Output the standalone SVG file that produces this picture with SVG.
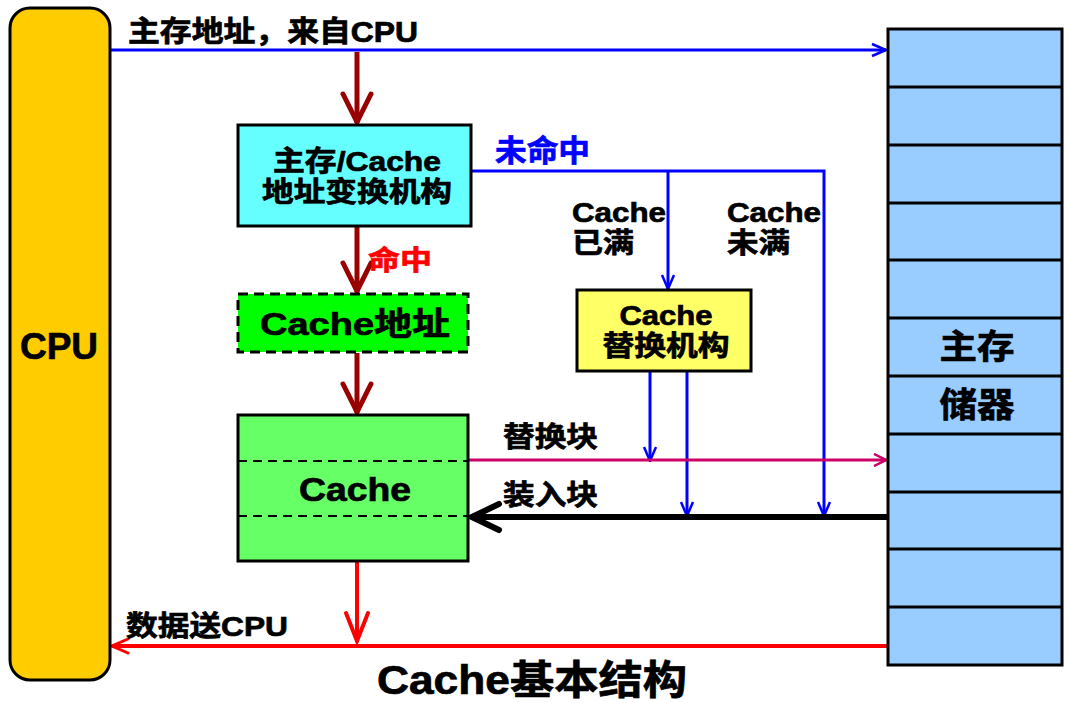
<svg xmlns="http://www.w3.org/2000/svg" width="1069" height="703" viewBox="0 0 1069 703">
<defs>
<style>
text{font-family:"Liberation Sans","Noto Sans CJK SC",sans-serif;font-weight:bold;fill:#000;stroke:#000;stroke-width:0.7}
.box{stroke:#000;stroke-width:3}
.mid{text-anchor:middle}
.blue{fill:#0000FF;stroke:#0000FF}
.red{fill:#FF0000;stroke:#FF0000}
</style>
<marker id="aBlue2" viewBox="0 0 16 16" refX="15" refY="8" markerWidth="16" markerHeight="16" markerUnits="userSpaceOnUse" orient="auto"><path d="M1,2 L15,8 L1,14" fill="none" stroke="#0000FF" stroke-width="2.5"/></marker>
<marker id="aMag" viewBox="0 0 14 14" refX="13" refY="7" markerWidth="14" markerHeight="14" markerUnits="userSpaceOnUse" orient="auto"><path d="M1,1 L13,7 L1,13" fill="none" stroke="#CC0066" stroke-width="2.5"/></marker>
<marker id="aDark" viewBox="0 0 34 34" refX="32" refY="17" markerWidth="34" markerHeight="34" markerUnits="userSpaceOnUse" orient="auto"><path d="M3,3 L31,17 L3,31" fill="none" stroke="#990000" stroke-width="5" stroke-linecap="round"/></marker>
<marker id="aRed" viewBox="0 0 34 34" refX="32" refY="17" markerWidth="34" markerHeight="34" markerUnits="userSpaceOnUse" orient="auto"><path d="M3,6 L31,17 L3,28" fill="none" stroke="#FF0000" stroke-width="4" stroke-linecap="round"/></marker>
<marker id="aRedS" viewBox="0 0 20 20" refX="19" refY="10" markerWidth="20" markerHeight="20" markerUnits="userSpaceOnUse" orient="auto"><path d="M3,3 L19,10 L3,17" fill="none" stroke="#FF0000" stroke-width="3" stroke-linecap="round"/></marker>
<marker id="aBlack" viewBox="0 0 34 34" refX="32" refY="17" markerWidth="34" markerHeight="34" markerUnits="userSpaceOnUse" orient="auto"><path d="M4,4 L31,17 L4,30" fill="none" stroke="#000" stroke-width="6" stroke-linecap="round"/></marker>
</defs>
<rect width="1069" height="703" fill="#fff"/>

<g id="connectors" fill="none">
<path d="M110,50 H886" stroke="#0000FF" stroke-width="3" marker-end="url(#aBlue2)"/>
<path d="M357,52 V123" stroke="#990000" stroke-width="5" marker-end="url(#aDark)"/>
<path d="M357,227 V292" stroke="#990000" stroke-width="5" marker-end="url(#aDark)"/>
<path d="M357,353 V413" stroke="#990000" stroke-width="5" marker-end="url(#aDark)"/>
<path d="M471,171 H824 V516" stroke="#0000FF" stroke-width="3" marker-end="url(#aBlue2)"/>
<path d="M668,171 V289" stroke="#0000FF" stroke-width="3" marker-end="url(#aBlue2)"/>
<path d="M650,371 V461" stroke="#0000FF" stroke-width="3" marker-end="url(#aBlue2)"/>
<path d="M687,371 V516" stroke="#0000FF" stroke-width="3" marker-end="url(#aBlue2)"/>
<path d="M469,460 H886" stroke="#CC0066" stroke-width="3" marker-end="url(#aMag)"/>
<path d="M888,517 H471" stroke="#000" stroke-width="6" marker-end="url(#aBlack)"/>
<path d="M357,562 V642" stroke="#FF0000" stroke-width="4" marker-end="url(#aRed)"/>
<path d="M888,646 H112" stroke="#FF0000" stroke-width="4" marker-end="url(#aRedS)"/>
</g>

<g id="cpu">
<rect x="10" y="8" width="100" height="672" rx="20" fill="#FFCC00" class="box"/>
<text x="59" y="359" class="mid" font-size="36" textLength="78" lengthAdjust="spacingAndGlyphs">CPU</text>
</g>

<g id="mainmem">
<rect x="888" y="29" width="174" height="636" fill="#99CCFF" class="box"/>
<path d="M888,87 H1062 M888,145 H1062 M888,203 H1062 M888,260 H1062 M888,318 H1062 M888,376 H1062 M888,434 H1062 M888,492 H1062 M888,549 H1062 M888,607 H1062" stroke="#000" stroke-width="3"/>
<text x="977" y="359" class="mid" font-size="34" textLength="75" lengthAdjust="spacingAndGlyphs">主存</text>
<text x="977" y="417" class="mid" font-size="34" textLength="75" lengthAdjust="spacingAndGlyphs">储器</text>
</g>

<g id="addrmap">
<rect x="238" y="125" width="233" height="101" fill="#66FFFF" class="box"/>
<text x="357" y="171" class="mid" font-size="28" textLength="168" lengthAdjust="spacingAndGlyphs">主存/Cache</text>
<text x="357" y="202" class="mid" font-size="28" textLength="190" lengthAdjust="spacingAndGlyphs">地址变换机构</text>
</g>

<g id="cacheaddr">
<rect x="238" y="294" width="230" height="58" fill="#00FF00" stroke="#000" stroke-width="3" stroke-dasharray="10,6"/>
<text x="355" y="335" class="mid" font-size="32" textLength="190" lengthAdjust="spacingAndGlyphs">Cache地址</text>
</g>

<g id="cache">
<rect x="238" y="415" width="230" height="146" fill="#66FF66" class="box"/>
<path d="M238,461 H468 M238,516 H468" stroke="#000" stroke-width="2" stroke-dasharray="9,6"/>
<text x="355" y="501" class="mid" font-size="33" textLength="112" lengthAdjust="spacingAndGlyphs">Cache</text>
</g>

<g id="replace">
<rect x="577" y="290" width="174" height="81" fill="#FFFF66" class="box"/>
<text x="666" y="325" class="mid" font-size="28" textLength="93" lengthAdjust="spacingAndGlyphs">Cache</text>
<text x="666" y="356" class="mid" font-size="28" textLength="127" lengthAdjust="spacingAndGlyphs">替换机构</text>
</g>

<g id="labels">
<text x="128" y="42" font-size="29" textLength="290" lengthAdjust="spacingAndGlyphs">主存地址，来自CPU</text>
<text x="495" y="161" font-size="30" class="blue" textLength="95" lengthAdjust="spacingAndGlyphs">未命中</text>
<text x="572" y="222" font-size="28" textLength="94" lengthAdjust="spacingAndGlyphs">Cache</text>
<text x="572" y="253" font-size="28" textLength="62" lengthAdjust="spacingAndGlyphs">已满</text>
<text x="727" y="222" font-size="28" textLength="94" lengthAdjust="spacingAndGlyphs">Cache</text>
<text x="727" y="253" font-size="28" textLength="63" lengthAdjust="spacingAndGlyphs">未满</text>
<text x="368" y="270" font-size="27" class="red" textLength="64" lengthAdjust="spacingAndGlyphs">命中</text>
<text x="503" y="447" font-size="28" textLength="95" lengthAdjust="spacingAndGlyphs">替换块</text>
<text x="503" y="505" font-size="28" textLength="95" lengthAdjust="spacingAndGlyphs">装入块</text>
<text x="126" y="636" font-size="28" textLength="162" lengthAdjust="spacingAndGlyphs">数据送CPU</text>
<text x="532" y="694" class="mid" font-size="40" textLength="310" lengthAdjust="spacingAndGlyphs">Cache基本结构</text>
</g>
</svg>
